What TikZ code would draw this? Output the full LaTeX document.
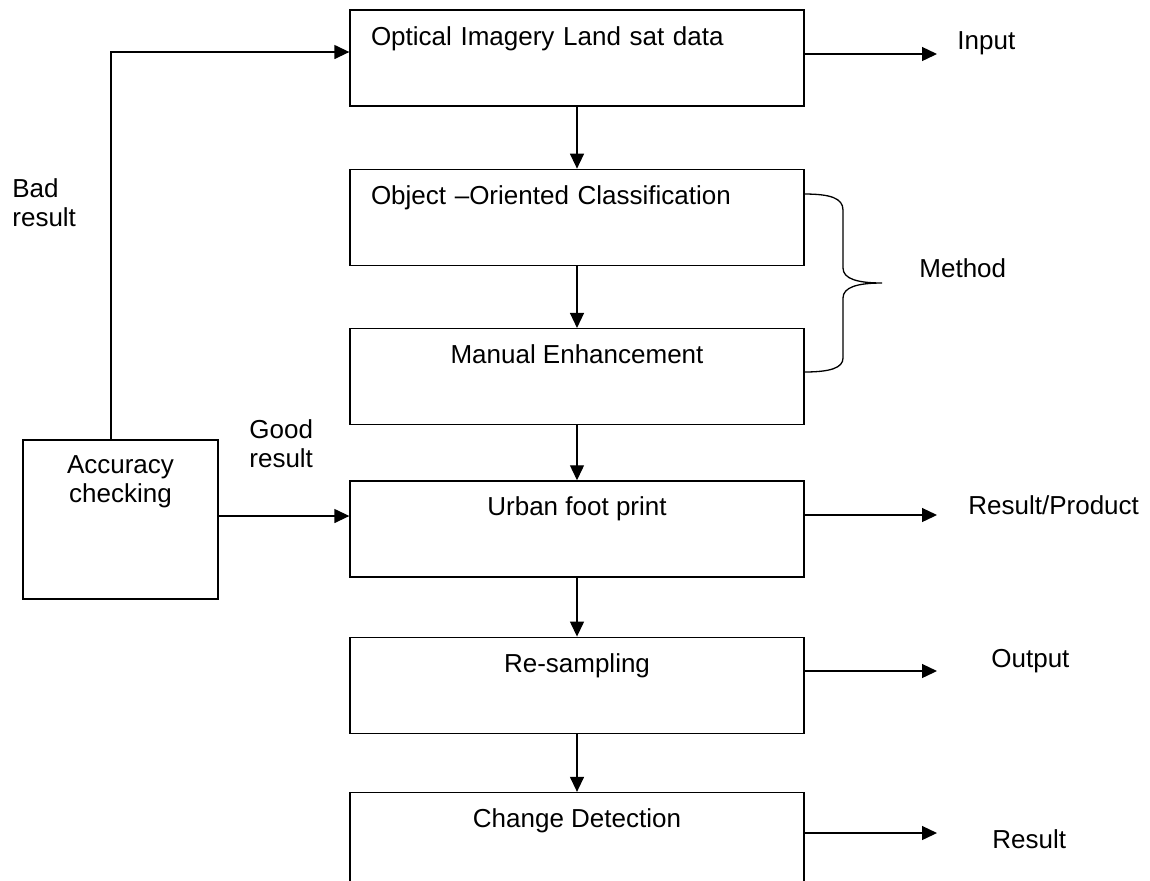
\documentclass[tikz,border=0pt]{standalone}
\usepackage{fontspec}
\setmainfont{Liberation Sans}
\usetikzlibrary{arrows.meta, positioning}

\begin{document}
\begin{tikzpicture}[
    x=0.5pt, y=-0.5pt,
    >={Triangle[length=7.5pt,width=7pt]},
    box/.style={rectangle, draw, line width=0.65pt, minimum width=227pt, inner xsep=0pt, inner ysep=0pt, text height=17.5pt, text depth=30.5pt, font=\fontsize{13}{14.5}\selectfont},
    boxl/.style={box, inner xsep=10.5pt, text width=206pt, align=left},
    lbl/.style={inner sep=0pt, font=\fontsize{13}{14.5}\selectfont},
    line/.style={draw, ->, line width=0.65pt}
]
    \useasboundingbox (0,0) rectangle (1150,880);

    \node (optical) [boxl] at (577,58) {Optical Imagery Land sat data};
    \node (object) [boxl, below=31pt of optical] {Object –Oriented Classification};
    \node (manual) [box, below=31pt of object] {Manual Enhancement};
    \node (urban) [box, below=27.5pt of manual] {Urban foot print};
    \node (resamp) [box, below=29.5pt of urban] {Re-sampling};
    \node (change) [box, below=29pt of resamp] {Change Detection};

    \node (acc) [rectangle, draw, line width=0.65pt, minimum width=97.5pt, minimum height=79.5pt, inner sep=0pt] at (120.5,519.5) {};
    \node (acctxt) [lbl, align=center, below=8pt of acc.north] {Accuracy\\checking};

    \node (inlbl) [lbl, anchor=base west] at (957,49) {Input};
    \node (method) [lbl, anchor=base west] at (919,277) {Method};
    \node (prod) [lbl, anchor=base west] at (968,514) {Result/Product};
    \node (outlbl) [lbl, anchor=base west] at (991,667) {Output};
    \node (reslbl) [lbl, anchor=base west] at (992,848) {Result};
    \node (bad) [lbl, align=left, anchor=north west] at (12,178) {Bad\\result};
    \node (good) [lbl, align=left, anchor=north west] at (249,419) {Good\\result};

    \draw[line] (optical) -- (object);
    \draw[line] (object) -- (manual);
    \draw[line] (manual) -- (urban);
    \draw[line] (urban) -- (resamp);
    \draw[line] (resamp) -- (change);

    \coordinate (inend) at (937,54);
    \coordinate (prodend) at (937,515);
    \coordinate (outend) at (937,671);
    \coordinate (resend) at (937,833);
    \draw[line] (optical.east |- inend) -- (inend);
    \draw[line] (urban.east |- prodend) -- (prodend);
    \draw[line] (resamp.east |- outend) -- (outend);
    \draw[line] (change.east |- resend) -- (resend);

    % bad result goes back to the input
    \coordinate (fb) at (111,52);
    \draw[line] (acc.north -| fb) -- (fb) -- (optical.west |- fb);
    \coordinate (gd) at (0,516);
    \draw[line] (acc.east |- gd) -- (urban.west |- gd);

    % brace round the method boxes
    \draw[line width=0.65pt] (804,194) .. controls (830,194) and (843,198) .. (843,210) -- (843,268)
        .. controls (843,279) and (858,283) .. (882,283)
        .. controls (858,283) and (843,287) .. (843,298) -- (843,358)
        .. controls (843,368) and (830,372) .. (804,372);
\end{tikzpicture}
\end{document}
